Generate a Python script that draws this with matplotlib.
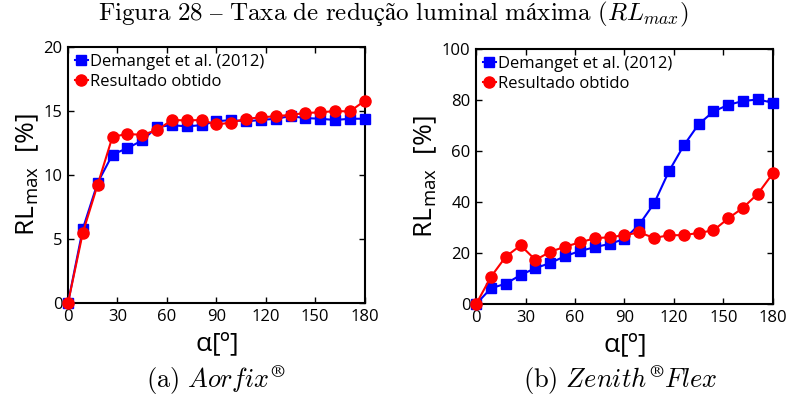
import matplotlib
matplotlib.use("Agg")
import matplotlib.pyplot as plt

# angles (degrees)
alpha = [0, 9, 18, 27, 36, 45, 54, 63, 72, 81, 90, 99, 108, 117, 126, 135, 144, 153, 162, 171, 180]

# (a) Aorfix
aorfix_demanget = [0, 5.8, 9.4, 11.6, 12.1, 12.7, 13.75, 13.9, 13.8, 13.9, 14.2, 14.3, 14.2, 14.3,
                   14.4, 14.6, 14.45, 14.4, 14.3, 14.4, 14.4]
aorfix_result = [0, 5.5, 9.25, 13.0, 13.2, 13.15, 13.5, 14.3, 14.27, 14.3, 13.95, 14.1, 14.4, 14.5,
                 14.6, 14.7, 14.85, 14.9, 15.0, 14.97, 15.8]

# (b) Zenith Flex
zenith_demanget = [0, 6.2, 8.0, 11.4, 14.1, 16.1, 18.8, 20.8, 22.3, 23.6, 25.5, 31.2, 39.5, 52.1,
                   62.2, 70.5, 75.5, 78.1, 79.6, 80.2, 78.9]
zenith_result = [0, 10.7, 18.6, 23.0, 17.3, 20.5, 22.5, 24.2, 25.8, 26.2, 27.0, 28.1, 25.9, 27.0,
                 27.0, 27.9, 28.9, 33.6, 37.8, 43.3, 51.2]

xticks = [0, 30, 60, 90, 120, 150, 180]

plt.rcParams['mathtext.fontset'] = 'cm'
plt.rcParams['font.family'] = ['Open Sans', 'DejaVu Sans']

fig = plt.figure(figsize=(7.87, 3.98), dpi=100)

def make_panel(rect, demanget, result, ymax, yticks):
    ax = fig.add_axes(rect)
    ax.plot(alpha, demanget, '-s', color='#0000ff', lw=1.5, ms=7, label='Demanget et al. (2012)',
            clip_on=False, zorder=3)
    ax.plot(alpha, result, '-o', color='#ff0000', lw=1.5, ms=8, label='Resultado obtido',
            clip_on=False, zorder=4)
    ax.set_xlim(0, 180)
    ax.set_ylim(0, ymax)
    ax.set_xticks(xticks)
    ax.set_yticks(yticks)
    ax.tick_params(direction='in', top=True, right=True, labelsize=12, length=4, width=1)
    ax.tick_params(axis='x', pad=4)
    ax.tick_params(axis='y', pad=4)
    for s in ax.spines.values():
        s.set_linewidth(1.5)
    ax.set_xlabel(r'$\mathregular{\alpha}$[º]', fontsize=19, labelpad=4)
    ax.set_ylabel(r'RL$_{\mathregular{max}}$  [%]', fontsize=19, labelpad=2)
    ax.legend(loc='upper left', frameon=False, fontsize=12, handlelength=0.8, handletextpad=0.1,
              borderaxespad=0.2, labelspacing=0.25, borderpad=0.2)
    return ax

make_panel([0.0864, 0.2387, 0.377, 0.643], aorfix_demanget, aorfix_result, 20, [0, 5, 10, 15, 20])
make_panel([0.605, 0.236, 0.377, 0.641], zenith_demanget, zenith_result, 100, [0, 20, 40, 60, 80, 100])

fig.text(0.5, 0.963, r'$\mathrm{Figura\ 28\ –\ Taxa\ de\ redução\ luminal\ máxima\ (}RL_{max}\mathrm{)}$',
         ha='center', va='center', fontsize=18)
fig.text(0.275, 0.045, r'$\mathrm{(a)}\ Aorfix^{\circledR}$', ha='center', va='center', fontsize=19)
fig.text(0.788, 0.045, r'$\mathrm{(b)}\ Zenith^{\circledR}Flex$', ha='center', va='center', fontsize=19)

fig.savefig('out.png', dpi=100)
